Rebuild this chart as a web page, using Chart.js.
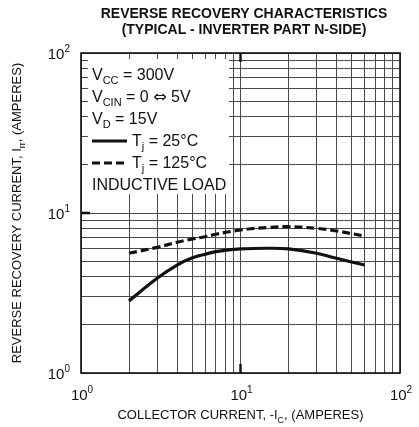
<!DOCTYPE html>
<html>
<head>
<meta charset="utf-8">
<script src="https://cdn.jsdelivr.net/npm/chart.js@4.4.1/dist/chart.umd.min.js"></script>
<style>
  html, body { margin: 0; padding: 0; background: #fff; }
  #wrap { width: 419px; height: 427px; }
</style>
</head>
<body>
<div id="wrap"><canvas id="chart" width="419" height="427"></canvas></div>
<script>
// collector current, -Ic (A)
const current = [2, 3, 4, 5, 6, 7, 10, 15, 20, 30, 40, 60];
// reverse recovery current Irr (A)
const irrTj25 = [2.82, 3.91, 4.73, 5.25, 5.52, 5.73, 5.96, 6.02, 5.96, 5.6, 5.21, 4.73];
const irrTj125 = [5.6, 6.1, 6.56, 6.88, 7.11, 7.36, 7.83, 8.13, 8.21, 8.02, 7.72, 7.18];
const decades = [1, 10, 100];
const decadeExp = ["0", "1", "2"];
const gridValues = [1, 2, 3, 4, 5, 6, 7, 8, 9, 10, 20, 30, 40, 50, 60, 70, 80, 90, 100];

const FONT = "'Liberation Sans', Arial, Helvetica, sans-serif";

function toPoints(xs, ys) {
  return xs.map((x, i) => ({ x: x, y: ys[i] }));
}

// parts: [text, mode, font?], mode "" normal, "sub", "sup"
function partFont(part, size, weight) {
  const s = part[1] ? Math.round(size * 0.68) : size;
  return (weight || "") + " " + s + "px " + (part[2] || FONT);
}

function drawRich(ctx, parts, x, y, size, align, weight) {
  let w = 0;
  parts.forEach((p) => {
    ctx.font = partFont(p, size, weight);
    w += ctx.measureText(p[0]).width;
  });
  let cx = x;
  if (align === "center") cx = x - w / 2;
  if (align === "right") cx = x - w;
  ctx.textAlign = "left";
  ctx.textBaseline = "alphabetic";
  parts.forEach((p) => {
    ctx.font = partFont(p, size, weight);
    let dy = 0;
    if (p[1] === "sub") dy = size * 0.28;
    if (p[1] === "sup") dy = -size * 0.45;
    ctx.fillText(p[0], cx, y + dy);
    cx += ctx.measureText(p[0]).width;
  });
}

const sheetPlugin = {
  id: "sheet",
  beforeDatasetsDraw(chart) {
    const ctx = chart.ctx;
    ctx.save();
    // legend box hides the grid
    ctx.fillStyle = "#fff";
    ctx.fillRect(88, 59, 141, 135);
    ctx.fillStyle = "#111";
    const fs = 16;
    drawRich(ctx, [["V", ""], ["CC", "sub"], [" = 300V", ""]], 92, 80, fs);
    drawRich(ctx, [["V", ""], ["CIN", "sub"], [" = 0 ", ""], ["\u21D4", "", "'DejaVu Sans', sans-serif"], [" 5V", ""]], 92, 102, fs);
    drawRich(ctx, [["V", ""], ["D", "sub"], [" = 15V", ""]], 92, 124, fs);
    ctx.strokeStyle = "#111";
    ctx.lineWidth = 3;
    ctx.beginPath();
    ctx.moveTo(92, 141);
    ctx.lineTo(127, 141);
    ctx.stroke();
    ctx.setLineDash([8, 4]);
    ctx.beginPath();
    ctx.moveTo(92, 163);
    ctx.lineTo(127, 163);
    ctx.stroke();
    ctx.setLineDash([]);
    drawRich(ctx, [["T", ""], ["j", "sub"], [" = 25\u00B0C", ""]], 132, 146, fs);
    drawRich(ctx, [["T", ""], ["j", "sub"], [" = 125\u00B0C", ""]], 132, 168, fs);
    drawRich(ctx, [["INDUCTIVE LOAD", ""]], 92, 190, fs);
    ctx.restore();
  },
  afterDraw(chart) {
    const ctx = chart.ctx;
    const a = chart.chartArea;
    const xs = chart.scales.x;
    const ys = chart.scales.y;
    ctx.save();
    ctx.strokeStyle = "#111";
    ctx.lineWidth = 1.6;
    ctx.strokeRect(a.left, a.top, a.right - a.left, a.bottom - a.top);
    // heavier stubs at the decade lines
    ctx.lineWidth = 2.4;
    const px = xs.getPixelForValue(10);
    const py = ys.getPixelForValue(10);
    ctx.beginPath();
    ctx.moveTo(px, a.bottom); ctx.lineTo(px, a.bottom - 9);
    ctx.moveTo(px, a.top); ctx.lineTo(px, a.top + 9);
    ctx.moveTo(a.left, py); ctx.lineTo(a.left + 9, py);
    ctx.stroke();

    ctx.fillStyle = "#111";
    // tick labels
    decades.forEach((v, i) => {
      const x = xs.getPixelForValue(v);
      drawRich(ctx, [["10", ""], [decadeExp[i], "sup"]], x + 1, 400, 15, "center");
      const y = ys.getPixelForValue(v);
      drawRich(ctx, [["10", ""], [decadeExp[i], "sup"]], 70, y + 6, 15, "right");
    });
    // title
    ctx.font = "bold 14px " + FONT;
    ctx.textAlign = "center";
    ctx.fillText("REVERSE RECOVERY CHARACTERISTICS", 244, 18);
    ctx.fillText("(TYPICAL - INVERTER PART N-SIDE)", 244, 34);
    // axis titles
    drawRich(ctx, [["COLLECTOR CURRENT, -I", ""], ["C", "sub"], [", (AMPERES)", ""]], 240.5, 419, 13, "center");
    ctx.save();
    ctx.translate(21, 213);
    ctx.rotate(-Math.PI / 2);
    drawRich(ctx, [["REVERSE RECOVERY CURRENT, I", ""], ["rr", "sub"], [", (AMPERES)", ""]], 0, 0, 13, "center");
    ctx.restore();
    ctx.restore();
  }
};

function logAxis(pos) {
  return {
    type: "logarithmic",
    position: pos,
    min: 1,
    max: 100,
    afterBuildTicks(scale) {
      scale.ticks = gridValues.map((v) => ({ value: v }));
    },
    ticks: { display: false },
    grid: {
      color: "#4a4a4a",
      lineWidth: 1,
      drawTicks: false
    },
    border: { display: false }
  };
}

new Chart(document.getElementById("chart"), {
  type: "line",
  data: {
    datasets: [
      {
        label: "Tj = 25\u00B0C",
        data: toPoints(current, irrTj25),
        borderColor: "#111",
        borderWidth: 3.2,
        pointRadius: 0,
        tension: 0.4,
        fill: false
      },
      {
        label: "Tj = 125\u00B0C",
        data: toPoints(current, irrTj125),
        borderColor: "#111",
        borderWidth: 3.2,
        borderDash: [8, 4],
        pointRadius: 0,
        tension: 0.4,
        fill: false
      }
    ]
  },
  options: {
    responsive: false,
    animation: false,
    devicePixelRatio: 1,
    layout: { padding: { left: 81, right: 19, top: 53, bottom: 54 } },
    plugins: {
      legend: { display: false },
      title: { display: false },
      tooltip: { enabled: false }
    },
    scales: {
      x: logAxis("bottom"),
      y: logAxis("left")
    }
  },
  plugins: [sheetPlugin]
});
</script>
</body>
</html>
